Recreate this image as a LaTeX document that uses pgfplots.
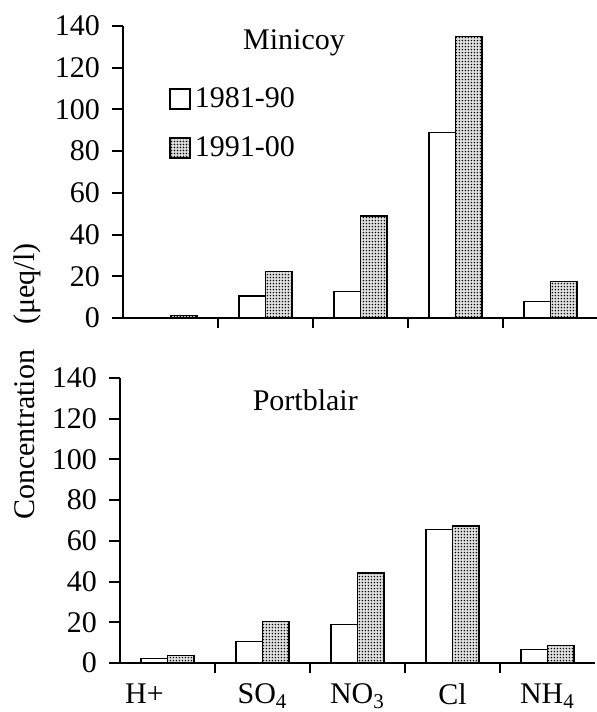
\documentclass[border=0pt]{standalone}
\usepackage{fontspec}
\setmainfont{Liberation Serif}
\usepackage{pgfplots}
\pgfplotsset{compat=1.18}
\usepackage{pgfplotstable}
\usetikzlibrary{patterns}

\pgfdeclarepatternformonly{mydots}{\pgfpoint{0pt}{0pt}}{\pgfpoint{1.7pt}{1.7pt}}{\pgfpoint{1.7pt}{1.7pt}}{\pgfpathcircle{\pgfpoint{0.85pt}{0.85pt}}{0.45pt}\pgfusepath{fill}}

\pgfplotstableread{
x a b
0 0 1.2
1 10.5 22.2
2 12.6 49
3 89 135
4 7.8 17.4
}\minicoy

\pgfplotstableread{
x a b
0 2.2 3.6
1 10.5 20.3
2 19 44.3
3 65.6 67.2
4 6.7 8.5
}\portblair

\pgfplotsset{
  conc/.style={
    scale only axis, width=237.5pt,
    xmin=-0.5, xmax=4.5, ymin=0, ymax=140,
    axis lines=left, axis line style={-, line width=1pt},
    ytick={0,20,...,140},
    xtick={0,...,4}, major x tick style={draw=none},
    minor xtick={0.5,1.5,2.5,3.5},
    tick align=outside,
    major tick length=5.5pt, minor tick length=5pt,
    every tick/.style={black, line width=1pt},
    minor x tick style={black, line width=1pt},
    yticklabel style={xshift=-2.5pt},
    /pgf/number format/assume math mode=true,
    ybar=0pt, bar width=0.28,
    clip=false,
  },
  white bar/.style={draw=black, line width=0.75pt, fill=white},
  dot bar/.style={draw=black, line width=0.75pt, fill=gray!25, postaction={pattern=mydots, pattern color=black}},
}

\begin{document}
\begin{tikzpicture}[font=\fontsize{15}{17}\selectfont]
\useasboundingbox (0,0) rectangle (298pt,356pt);

\begin{axis}[conc, at={(61.5pt,197pt)}, anchor=south west, height=146pt,
  xticklabels={},
  legend style={draw=none, fill=none, at={(0.097,0.805)}, anchor=north west,
    row sep=9pt, font=\fontsize{15}{17}\selectfont, inner sep=0pt,
    /tikz/every even column/.append style={column sep=3pt}},
  legend cell align=left,
  legend image code/.code={\draw[#1] (0pt,-5pt) rectangle (10pt,5pt);},
]
\addplot[white bar] table[x=x,y=a] {\minicoy};
\addplot[dot bar] table[x=x,y=b] {\minicoy};
\legend{1981-90,1991-00}
\node[anchor=base] at (axis cs:1.3,128.5) {Minicoy};
\end{axis}

\begin{axis}[conc, at={(60pt,24.5pt)}, anchor=south west, height=142.5pt,
  xticklabels={{H+\hspace*{23pt}},SO\textsubscript{4},NO\textsubscript{3},Cl,NH\textsubscript{4}},
  xticklabel style={yshift=-1.5pt},
]
\addplot[white bar] table[x=x,y=a] {\portblair};
\addplot[dot bar] table[x=x,y=b] {\portblair};
\node[anchor=base] at (axis cs:1.45,124.1) {Portblair};
\end{axis}

\node[rotate=90] at (12.5pt,138.5pt) {Concentration};
\node[rotate=90] at (13.5pt,214pt) {(μeq/l)};
\end{tikzpicture}
\end{document}
